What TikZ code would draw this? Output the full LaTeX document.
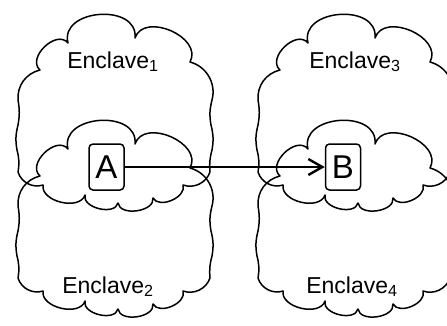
\documentclass[tikz,border=0pt]{standalone}
\usepackage{fontspec}
\setmainfont{Liberation Sans}
\usetikzlibrary{arrows.meta}
\tikzset{
  cloudline/.style={draw=black, line width=1.5pt, line join=round},
  enclavetext/.style={font=\fontsize{23}{27}\selectfont, anchor=base, inner sep=0pt},
  letterbox/.style={draw=black, line width=1.5pt, rounded corners=4pt, minimum width=35pt, minimum height=46pt, inner sep=0pt, font=\fontsize{33}{38}\selectfont},
  arrowline/.style={line width=2.8pt, -{Straight Barb[length=14pt,width=16pt,line width=2.4pt]}},
  enclave/.pic={
    \draw[cloudline] (18,100) to[bend left=40] (40,70)
      to[bend left=95, looseness=1.2] (68,43)
      to[bend left=100, looseness=1.35] (135,38)
      to[bend left=95, looseness=1.2] (190,62)
      to[bend left=45] (212,100)
      to[bend right=12] (211,125)
      to[bend left=12] (212,150)
      to[bend right=10] (210,172)
      to[bend left=45] (183,185)
      to[bend left=85] (153,198)
      to[bend left=90] (118,203)
      to[bend left=90] (85,195)
      to[bend left=85] (43,185)
      to[bend left=45] (18,172)
      to[bend right=12] (17,150)
      to[bend left=12] (18,125)
      to[bend right=10] cycle;
  }
}
\begin{document}
\begin{tikzpicture}[x=1pt,y=-1pt]
\useasboundingbox (0,0) rectangle (447,325);
\pic at (0,0) {enclave};
\pic at (0,106) {enclave};
\pic at (240,0) {enclave};
\pic at (240,106) {enclave};
\node[enclavetext] (e1) at (113,68) {Enclave\textsubscript{1}};
\node[enclavetext] (e2) at (108,293) {Enclave\textsubscript{2}};
\node[enclavetext] (e3) at (355,68) {Enclave\textsubscript{3}};
\node[enclavetext] (e4) at (352,293) {Enclave\textsubscript{4}};
\node[letterbox] (A) at (106.5,167) {A};
\node[letterbox] (B) at (343,167) {B};
\draw[arrowline] (A) -- (B);
\end{tikzpicture}
\end{document}
